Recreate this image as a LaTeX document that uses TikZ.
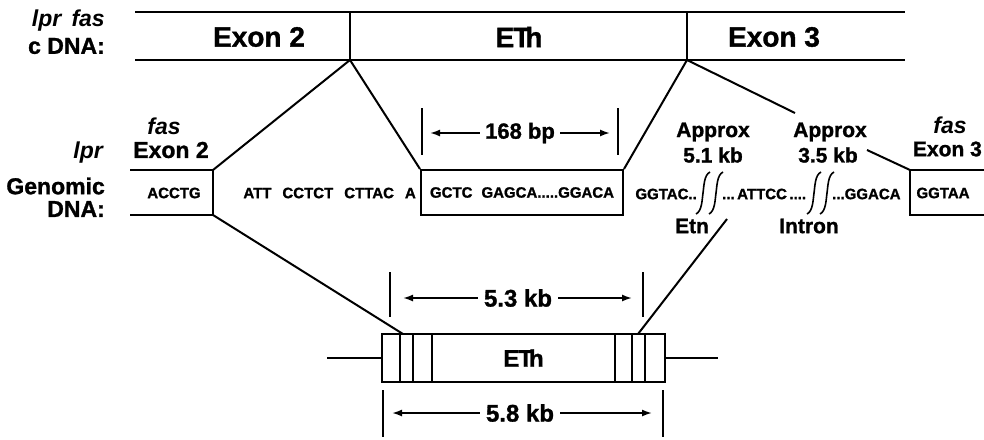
\documentclass[tikz,border=0pt]{standalone}
\usepackage{fontspec}
\setmainfont{Liberation Sans}[BoldFeatures={FakeBold=1.2}]
\usetikzlibrary{arrows.meta}
\begin{document}
\begin{tikzpicture}[x=1pt,y=-1pt,
  barline/.style={line width=2.8pt},
  lin/.style={line width=2pt},
  tickline/.style={line width=1.7pt},
  dimarrow/.style={line width=1.7pt,-{Latex[length=10pt,width=7pt]}},
  squig/.style={line width=1.6pt},
  bigtxt/.style={font=\fontsize{28}{30}\selectfont\bfseries,inner sep=0pt},
  lbltxt/.style={font=\fontsize{23}{25}\selectfont\bfseries,inner sep=0pt,align=right},
  midtxt/.style={font=\fontsize{22}{24}\selectfont\bfseries,inner sep=0pt},
  smltxt/.style={font=\fontsize{21}{23}\selectfont\bfseries,inner sep=0pt,align=center},
  seqtxt/.style={font=\fontsize{15}{17}\selectfont\bfseries,inner sep=0pt},
]
\useasboundingbox (0,0) rectangle (984,439);

% ---------- cDNA bar ----------
\coordinate (ctl) at (135,12);
\coordinate (ctr) at (905,12);
\coordinate (cbl) at (135,60);
\coordinate (cbr) at (905,60);
\coordinate (d1t) at (350,12);
\coordinate (d1b) at (350,60);
\coordinate (d2t) at (687,12);
\coordinate (d2b) at (687,60);
\draw[barline] (ctl) -- (ctr);
\draw[barline] (cbl) -- (cbr);
\draw[barline] (d1t) -- (d1b);
\draw[barline] (d2t) -- (d2b);
\node[bigtxt] (ex2) at (259,37) {Exon 2};
\node[bigtxt] (eth1) at (519,37) {E\kern-1pt T\kern-5pt h};
\node[bigtxt] (ex3) at (774,37) {Exon 3};

\node[lbltxt,anchor=east] (lbl1) at (105,21) {\itshape lpr\, fas};
\node[lbltxt,anchor=east] (lbl2) at (105,46) {c DNA:};

% ---------- Genomic DNA ----------
\node[lbltxt,anchor=east] (lbl3) at (103,153) {\itshape lpr};
\node[lbltxt,anchor=east] (lbl4) at (105,186) {Genomic};
\node[lbltxt,anchor=east] (lbl5) at (105,209) {DNA:};

\node[lbltxt,align=center] (fas2) at (164,126) {\itshape fas};
\node[lbltxt,align=center] (exon2b) at (171,150) {Exon 2};

\coordinate (lbtl) at (130,170);
\coordinate (lbtr) at (213,170);
\coordinate (lbbr) at (213,215);
\coordinate (lbbl) at (130,215);
\draw[lin] (lbtl) -- (lbtr) -- (lbbr) -- (lbbl);
\node[seqtxt] (s1) at (174,193) {ACCTG};
\node[seqtxt,anchor=east] (s2) at (416,193) {ATT\hspace{11pt}CCTCT\hspace{11pt}CTTAC\hspace{11pt}A};

\node[draw,lin,minimum width=202pt,minimum height=45pt,inner sep=0pt,seqtxt] (mb) at (522,192.5)
  {GCTC\hspace{9pt}GAGCA.....GGACA};

\node[seqtxt,anchor=east] (s3) at (697,194) {GGTAC..};
\node[seqtxt,anchor=west] (s4) at (722,194) {...\,ATTCC\,....};
\node[seqtxt,anchor=west] (s5) at (832,194) {...GGACA};

\foreach \cx in {703,716,814,827}
  \draw[squig] (\cx+7,172) .. controls (\cx+1,175) and (\cx+1,186) .. (\cx,193)
               .. controls (\cx-1,200) and (\cx-1,211) .. (\cx-7,214);

\node[smltxt] (ap1) at (713,132) {Approx};
\node[smltxt] (kb1) at (713,155) {5.1 kb};
\node[smltxt] (ap2) at (830,132) {Approx};
\node[smltxt] (kb2) at (828,155) {3.5 kb};
\node[smltxt] (etn) at (692,226) {Etn};
\node[smltxt] (intron) at (809,226) {Intron};

\coordinate (rbtl) at (910,170);
\coordinate (rbbl) at (910,215);
\coordinate (rbtr) at (995,170);
\coordinate (rbbr) at (995,215);
\draw[lin] (rbtr) -- (rbtl) -- (rbbl) -- (rbbr);
\node[seqtxt] (s6) at (943,193) {GGTAA};
\node[lbltxt,align=center] (fas3) at (950,125) {\itshape fas};
\node[lbltxt,anchor=east,font=\fontsize{21}{23}\selectfont\bfseries] (exon3b) at (982,149) {Exon 3};

% 168 bp dimension
\coordinate (t1a) at (422,108);
\coordinate (t1b) at (422,155);
\coordinate (t2a) at (618,108);
\coordinate (t2b) at (618,155);
\draw[tickline] (t1a) -- (t1b);
\draw[tickline] (t2a) -- (t2b);
\node[midtxt] (bp) at (520,133) {168 bp};
\coordinate (a1l) at (430,133);
\coordinate (a1r) at (610,133);
\draw[dimarrow] ([xshift=-5pt]bp.west) -- (a1l);
\draw[dimarrow] ([xshift=5pt]bp.east) -- (a1r);

% connectors from cDNA to genomic
\coordinate (ap2end) at (795,113);
\coordinate (kb2end) at (867,150);
\draw[lin] (lbtr) -- (d1b) -- (mb.north west);
\draw[lin] (mb.north east) -- (d2b) -- (ap2end);
\draw[lin] (kb2end) -- (rbtl);

% ---------- bottom ETh element ----------
\node[draw,lin,minimum width=283pt,minimum height=48pt,inner sep=0pt,bigtxt,font=\fontsize{24}{26}\selectfont\bfseries] (bx) at (523.5,358)
  {E\kern-1pt T\kern-4pt h};
\foreach \xx in {400,413,432,615,632,645}
  \draw[lin] (\xx,334) -- (\xx,382);
\coordinate (wl) at (327,358);
\coordinate (wr) at (718,358);
\draw[lin] (wl) -- (bx.west);
\draw[lin] (bx.east) -- (wr);

\coordinate (bxl) at (403,334);
\coordinate (bxr) at (638,334);
\coordinate (etnend) at (727,219);
\draw[lin] (lbbr) -- (bxl);
\draw[lin] (etnend) -- (bxr);

% 5.3 kb dimension
\draw[tickline] (390,272) coordinate (u1a) -- (390,317) coordinate (u1b);
\draw[tickline] (643,272) coordinate (u2a) -- (643,317) coordinate (u2b);
\node[midtxt,font=\fontsize{24}{26}\selectfont\bfseries] (kb53) at (518,298) {5.3 kb};
\draw[dimarrow] ([xshift=-6pt]kb53.west) -- (403,298);
\draw[dimarrow] ([xshift=6pt]kb53.east) -- (632,298);

% 5.8 kb dimension
\draw[tickline] (383,390) coordinate (v1a) -- (383,437) coordinate (v1b);
\draw[tickline] (663,390) coordinate (v2a) -- (663,437) coordinate (v2b);
\node[midtxt,font=\fontsize{24}{26}\selectfont\bfseries] (kb58) at (520,413) {5.8 kb};
\draw[dimarrow] ([xshift=-6pt]kb58.west) -- (392,413);
\draw[dimarrow] ([xshift=6pt]kb58.east) -- (652,413);
\end{tikzpicture}
\end{document}
